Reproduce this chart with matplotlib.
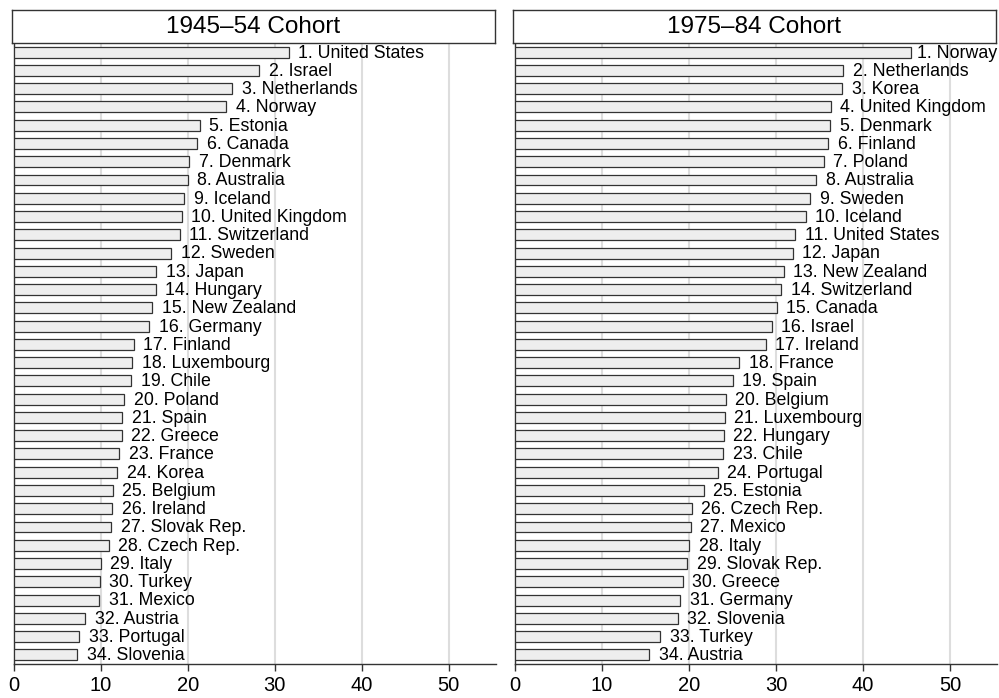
import numpy as np
import matplotlib.pyplot as plt

plt.rcParams["font.family"] = ["Liberation Sans", "DejaVu Sans"]

countries_old = [
    "United States", "Israel", "Netherlands", "Norway", "Estonia", "Canada",
    "Denmark", "Australia", "Iceland", "United Kingdom", "Switzerland", "Sweden",
    "Japan", "Hungary", "New Zealand", "Germany", "Finland", "Luxembourg",
    "Chile", "Poland", "Spain", "Greece", "France", "Korea", "Belgium",
    "Ireland", "Slovak Rep.", "Czech Rep.", "Italy", "Turkey", "Mexico",
    "Austria", "Portugal", "Slovenia",
]
values_old = [
    31.6, 28.2, 25.1, 24.4, 21.4, 21.1, 20.2, 20.0, 19.6, 19.3, 19.1, 18.1,
    16.4, 16.3, 15.9, 15.6, 13.8, 13.6, 13.5, 12.7, 12.5, 12.4, 12.1, 11.9,
    11.4, 11.3, 11.2, 10.9, 10.0, 9.9, 9.8, 8.2, 7.5, 7.3,
]

countries_young = [
    "Norway", "Netherlands", "Korea", "United Kingdom", "Denmark", "Finland",
    "Poland", "Australia", "Sweden", "Iceland", "United States", "Japan",
    "New Zealand", "Switzerland", "Canada", "Israel", "Ireland", "France",
    "Spain", "Belgium", "Luxembourg", "Hungary", "Chile", "Portugal",
    "Estonia", "Czech Rep.", "Mexico", "Italy", "Slovak Rep.", "Greece",
    "Germany", "Slovenia", "Turkey", "Austria",
]
values_young = [
    45.5, 37.7, 37.6, 36.3, 36.2, 36.0, 35.5, 34.6, 33.9, 33.4, 32.2, 31.9,
    30.9, 30.6, 30.1, 29.5, 28.8, 25.8, 25.0, 24.2, 24.1, 24.0, 23.9, 23.3,
    21.7, 20.3, 20.2, 20.0, 19.8, 19.3, 19.0, 18.7, 16.7, 15.4,
]

titles = ["1945\u201354 Cohort", "1975\u201384 Cohort"]

fig = plt.figure(figsize=(9.99, 6.98), dpi=100)

panels = [
    (countries_old, values_old, 0.0137, 0.012),
    (countries_young, values_young, 0.5155, 0.5135),
]

labels = []
for (names, vals, left, sleft), title in zip(panels, titles):
    ax = fig.add_axes([left, 0.0487, 0.4825, 0.8897])
    y = np.arange(len(vals))
    ax.barh(y, vals, height=0.6, color="#eeeeee", edgecolor="#333333",
            linewidth=0.9, zorder=3)
    for i, (n, v) in enumerate(zip(names, vals)):
        t = ax.text(v + 1.1, i + 0.05, f"{i + 1}. {n}", va="center", ha="left",
                    fontsize=12.8, clip_on=False, zorder=4)
        labels.append((ax, t))
    ax.set_xlim(0, 55.4)
    ax.set_ylim(len(vals) - 0.5, -0.5)
    ax.set_xticks([0, 10, 20, 30, 40, 50])
    ax.set_yticks([])
    ax.tick_params(axis="x", labelsize=14.5, length=5, width=1, color="#333333")
    ax.grid(axis="x", color="#dddddd", linewidth=1.5, zorder=0)
    for s in ["top", "right"]:
        ax.spines[s].set_visible(False)
    for s in ["left", "bottom"]:
        ax.spines[s].set_color("#333333")
        ax.spines[s].set_linewidth(1)

    sax = fig.add_axes([sleft, 0.9384, 0.4835, 0.0473])
    sax.set_xticks([])
    sax.set_yticks([])
    for s in sax.spines.values():
        s.set_color("#333333")
        s.set_linewidth(1)
    sax.text(0.5, 0.47, title, ha="center", va="center", fontsize=17.5,
             transform=sax.transAxes)

# pull labels that run past the panel edge back inside
fig.canvas.draw()
r = fig.canvas.get_renderer()
for ax, t in labels:
    over = t.get_window_extent(r).x1 - ax.get_window_extent(r).x1
    if over > 0:
        x, yy = t.get_position()
        dx = over / ax.get_window_extent(r).width * 55.4
        t.set_position((x - dx, yy))

fig.savefig("out.png", dpi=100)
